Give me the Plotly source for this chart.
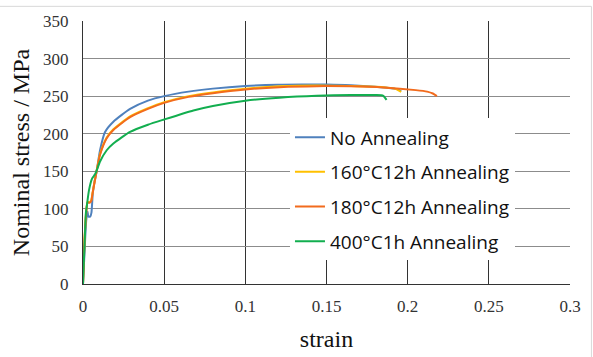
import plotly.graph_objects as go

# ---- data ----
names = ["No Annealing", "160°C12h Annealing", "180°C12h Annealing", "400°C1h Annealing"]
colors = ["#4F81BD", "#FFC000", "#F26B1D", "#12AE4F"]

strain_no = [0, 0.001, 0.002, 0.0028, 0.0033, 0.0045, 0.0052, 0.006, 0.007, 0.0084, 0.0105,
             0.0135, 0.0187, 0.029, 0.04, 0.05, 0.065, 0.08, 0.1, 0.12, 0.135, 0.15, 0.165,
             0.18, 0.19, 0.194, 0.196]
stress_no = [0, 45, 85, 96, 90, 90, 95, 120, 135, 150, 178,
             202, 216, 233, 244, 250, 256, 260, 263.5, 265.3, 265.6, 265.4, 264.5,
             262.5, 260.5, 259, 256.5]

strain_160 = [0, 0.001, 0.002, 0.0028, 0.004, 0.005, 0.006, 0.0084, 0.0105, 0.0146, 0.0187,
              0.029, 0.04, 0.05, 0.065, 0.08, 0.1, 0.121, 0.144, 0.165, 0.185, 0.192, 0.196]
stress_160 = [0, 62, 97, 109, 109, 111, 123, 151, 173, 195, 206,
              223, 234, 242, 250, 255, 260, 263, 264, 263.5, 262, 260, 255.6]

strain_180 = [0, 0.001, 0.002, 0.0028, 0.004, 0.005, 0.006, 0.0084, 0.0105, 0.0146, 0.0187,
              0.029, 0.04, 0.05, 0.065, 0.08, 0.1, 0.121, 0.144, 0.165, 0.185, 0.205, 0.212,
              0.2155, 0.218]
stress_180 = [0, 60, 95, 108, 108, 110, 122, 150, 172, 194, 205,
              222, 233, 241, 249, 254, 259, 262, 263.3, 263, 261.5, 258, 256,
              253.5, 250]

strain_400 = [0, 0.001, 0.0018, 0.0023, 0.0037, 0.0055, 0.0074, 0.0084, 0.0105, 0.0146, 0.0187,
              0.029, 0.04, 0.05, 0.068, 0.08, 0.1, 0.121, 0.144, 0.165, 0.18, 0.185, 0.187]
stress_400 = [0, 55, 95, 103, 125, 140, 146, 151, 163, 178, 187,
              202.5, 212, 219, 231, 237, 244, 248, 250.5, 251.5, 251.5, 250.5, 245]

series_x = [strain_no, strain_160, strain_180, strain_400]
series_y = [stress_no, stress_160, stress_180, stress_400]

x_ticks = [0, 0.05, 0.1, 0.15, 0.2, 0.25, 0.3]
y_ticks = [0, 50, 100, 150, 200, 250, 300, 350]

fig = go.Figure()
for i, (xs, ys) in enumerate(zip(series_x, series_y)):
    fig.add_trace(go.Scatter(x=xs, y=ys, mode="lines", name=names[i],
                             line=dict(color=colors[i], width=2, shape="spline", smoothing=0.6),
                             legendgroup=f"g{i}"))

serif = "Liberation Serif"
fig.update_layout(
    width=593, height=357, autosize=False,
    margin=dict(l=83, r=23, t=21, b=73, autoexpand=False),
    paper_bgcolor="white", plot_bgcolor="white",
    showlegend=True,
    legend=dict(x=0.425, xanchor="left", y=0.63, yanchor="top",
                bgcolor="white", borderwidth=0,
                font=dict(family="Open Sans", size=19, color="#111"),
                tracegroupgap=7, traceorder="grouped",
                entrywidth=245, entrywidthmode="pixels"),
    xaxis=dict(range=[0, 0.3], tickvals=x_ticks, ticktext=[str(v) for v in x_ticks],
               showgrid=True, gridcolor="#333333", gridwidth=1, automargin=False,
               showline=True, linecolor="#333333", linewidth=1, zeroline=False,
               ticks="", ticklabelstandoff=7,
               tickfont=dict(family=serif, size=17, color="#333"),
               title=dict(text="strain", font=dict(family=serif, size=24, color="#111"), standoff=14)),
    yaxis=dict(range=[0, 350], tickvals=y_ticks,
               showgrid=True, gridcolor="#8C8C8C", gridwidth=1, automargin=False,
               showline=True, linecolor="#333333", linewidth=1, zeroline=False,
               ticks="", ticklabelstandoff=10,
               tickfont=dict(family=serif, size=17, color="#333"),
               title=dict(text="Nominal stress / MPa", font=dict(family=serif, size=24, color="#111"), standoff=6)),
    shapes=[
        dict(type="line", xref="paper", yref="paper", x0=-0.171, x1=1.044, y0=1.0557, y1=1.0557,
             line=dict(color="#D9D9D9", width=1)),
        dict(type="line", xref="paper", yref="paper", x0=1.044, x1=1.044, y0=1.0557, y1=-0.28,
             line=dict(color="#D9D9D9", width=1)),
    ],
)

fig.write_html("out.html", config={"displayModeBar": False},
               post_script="document.body.style.margin='0px';")
